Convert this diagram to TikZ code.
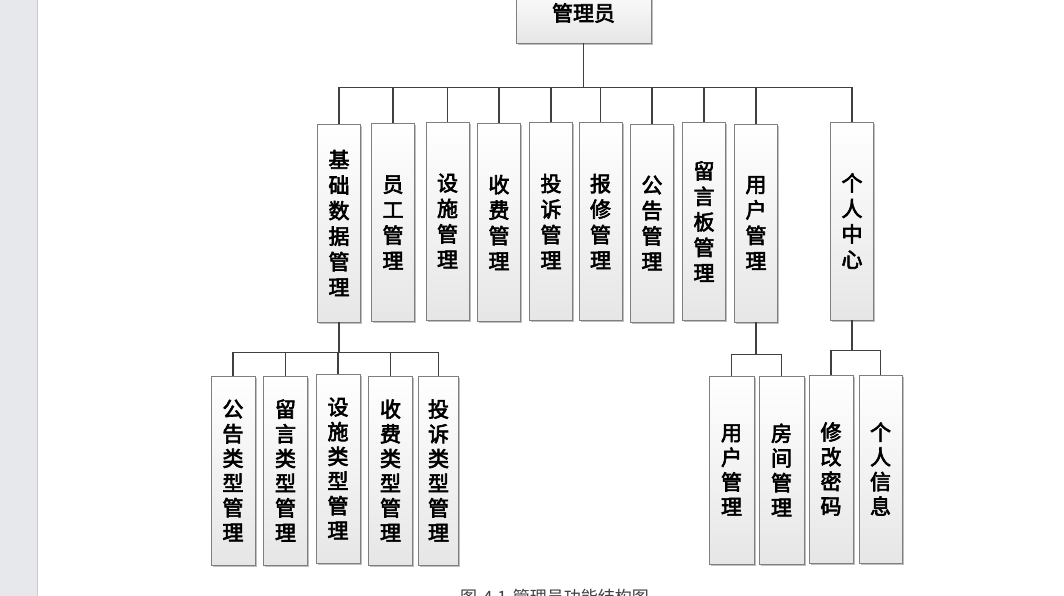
\documentclass[tikz,border=0pt]{standalone}
\usepackage{fontspec}
\newfontfamily\cjk{Noto Sans CJK SC}
\newfontfamily\cjkm{Noto Sans CJK SC}[FakeBold=3]
\usetikzlibrary{shadows}
\definecolor{stripc}{HTML}{E7E8EC}
\definecolor{stripl}{HTML}{C9CBD0}
\definecolor{linec}{HTML}{404040}
\definecolor{boxl}{HTML}{7F7F7F}
\definecolor{boxb}{HTML}{E6E6E6}
\tikzset{
  box/.style={draw=boxl, line width=0.9pt, top color=white, bottom color=boxb,
    inner sep=0pt, align=center,
    drop shadow={shadow xshift=1.6pt, shadow yshift=-1.6pt, opacity=0.25, fill=black}},
  tbox/.style={box, minimum width=43pt, minimum height=198pt,
    font=\cjkm\fontsize{21}{25.5}\selectfont},
  bbox/.style={box, minimum width=44pt, minimum height=189pt,
    font=\cjkm\fontsize{21}{24.7}\selectfont},
  conn/.style={draw=linec, line width=1.4pt}
}
\begin{document}
\begin{tikzpicture}[x=1pt,y=-1pt]
\clip (0,0) rectangle (1064,596);
\fill[white] (0,0) rectangle (1064,596);
\fill[stripc] (0,0) rectangle (37,596);
\draw[stripl, line width=1pt] (37.5,0) -- (37.5,596);

% root
\node[box, minimum width=135pt, minimum height=60pt,
  font=\cjkm\fontsize{21}{25}\selectfont] (root) at (583.5,13) {管理员};

% second level
\node[tbox] (n1) at (339,223) {基\\础\\数\\据\\管\\理};
\node[tbox] (n2) at (393,222.5) {员\\工\\管\\理};
\node[tbox] (n3) at (447.5,221) {设\\施\\管\\理};
\node[tbox] (n4) at (499,222.5) {收\\费\\管\\理};
\node[tbox] (n5) at (551,221.5) {投\\诉\\管\\理};
\node[tbox] (n6) at (600.5,221.5) {报\\修\\管\\理};
\node[tbox] (n7) at (652,223) {公\\告\\管\\理};
\node[tbox] (n8) at (704,221.5) {留\\言\\板\\管\\理};
\node[tbox] (n9) at (756,223) {用\\户\\管\\理};
\node[tbox] (n10) at (852,221) {个\\人\\中\\心};

% third level left
\node[bbox] (m1) at (233,470.5) {公\\告\\类\\型\\管\\理};
\node[bbox] (m2) at (285.5,470.5) {留\\言\\类\\型\\管\\理};
\node[bbox] (m3) at (338,468.5) {设\\施\\类\\型\\管\\理};
\node[bbox] (m4) at (390.5,470.5) {收\\费\\类\\型\\管\\理};
\node[bbox, minimum width=40pt] (m5) at (438.5,470.5) {投\\诉\\类\\型\\管\\理};

% third level right
\node[bbox, minimum width=45pt, minimum height=188pt] (r1) at (731.5,470) {用\\户\\管\\理};
\node[bbox, minimum width=45pt, minimum height=188pt] (r2) at (781.5,470) {房\\间\\管\\理};
\node[bbox, minimum width=44pt, minimum height=188pt] (r3) at (831,469) {修\\改\\密\\码};
\node[bbox, minimum width=43pt, minimum height=188pt] (r4) at (880.5,469) {个\\人\\信\\息};

% connectors level 1
\path (root.south) ++(0,44) coordinate (rb);
\draw[conn] (root.south) -- (rb);
\foreach \n in {n1,n2,n3,n4,n5,n6,n7,n8,n9,n10}
  \draw[conn] (rb) -| (\n.north);

% connectors from n1
\path (n1.south) ++(0,30) coordinate (b1);
\draw[conn] (n1.south) -- (b1);
\foreach \n in {m1,m2,m3,m4,m5}
  \draw[conn] (b1) -| (\n.north);

% connectors from n9
\path (n9.south) ++(0,32) coordinate (b9);
\draw[conn] (n9.south) -- (b9);
\foreach \n in {r1,r2}
  \draw[conn] (b9) -| (\n.north);

% connectors from n10
\path (n10.south) ++(0,30) coordinate (b10);
\draw[conn] (n10.south) -- (b10);
\foreach \n in {r3,r4}
  \draw[conn] (b10) -| (\n.north);

% caption
\node[anchor=base west, inner sep=0pt, text=black!75,
  font=\cjk\fontsize{17}{19}\selectfont] (cap) at (460,603) {图\hspace{6pt}4.1\hspace{6pt}管理员功能结构图};
\end{tikzpicture}
\end{document}
